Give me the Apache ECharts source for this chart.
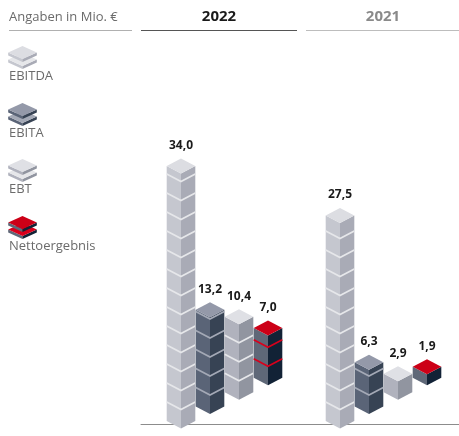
<!DOCTYPE html>
<html><head><meta charset="utf-8">
<style>html,body{margin:0;padding:0;background:#fff}#c{width:459px;height:436px}</style>
<script src="https://cdn.jsdelivr.net/npm/echarts@6/dist/echarts.min.js"></script>
</head><body><div id="c"></div>
<script>
const years = ['2022', '2021'];
const unitLabel = 'Angaben in Mio. €';
const names = ['EBITDA', 'EBITA', 'EBT', 'Nettoergebnis'];
const ebitda = [34.0, 27.5];
const ebita = [13.2, 6.3];
const ebt = [10.4, 2.9];
const netto = [7.0, 1.9];
const valuePerCube = 2.5;

const palette = [
  {top:'#dcdde2', left:'#c5c7cf', right:'#a9abb6', sep:'#e6e7ea'},
  {top:'#9499a9', left:'#5a6477', right:'#374354', sep:'#a4a9b6'},
  {top:'#dfe0e5', left:'#b0b2bd', right:'#9195a0', sep:'#e6e7ea'},
  {top:'#cc0017', left:'#5f6878', right:'#122236', sep:'#d8001c'}
];
const FONT = '"Open Sans", "Noto Sans", sans-serif';
const HW = 14.3, HD = 7.5, STEP = 29, DROP = 14.4, SHIFT = 4;
const fmt = v => v.toFixed(1).replace('.', ',');
const poly = (points, fill) => ({type:'polygon', shape:{points}, style:{fill}, silent:true});

function renderCube(seriesIdx) {
  return function (params, api) {
    const pal = palette[seriesIdx];
    const v = api.value(1);
    const base = api.coord([api.value(0), 0]);
    const top = api.coord([api.value(0), v]);
    const pxPerValue = base[1] - top[1];
    const cx = base[0] + SHIFT + (seriesIdx - 1.5) * STEP;
    const yb = base[1] + 4.5 - seriesIdx * DROP;
    const yt = top[1] + 8 - seriesIdx * DROP;
    const kids = [
      poly([[cx - HW, yt - HD], [cx, yt], [cx, yb], [cx - HW, yb - HD]], pal.left),
      poly([[cx + HW, yt - HD], [cx, yt], [cx, yb], [cx + HW, yb - HD]], pal.right),
      poly([[cx - HW, yt - HD], [cx, yt - 2 * HD], [cx + HW, yt - HD], [cx, yt]], pal.top)
    ];
    const pitch = valuePerCube * (pxPerValue / v);
    for (let k = 1; yb - k * pitch > yt + 1; k++) {
      const y = yb - k * pitch;
      kids.push({type:'polyline', shape:{points:[[cx - HW, y - HD], [cx, y], [cx + HW, y - HD]]},
        style:{stroke:pal.sep, lineWidth:1.7, fill:null}, silent:true});
    }
    kids.push({type:'text', style:{text:fmt(v), x:cx, y:yt - 2 * HD - 13, align:'center', verticalAlign:'middle',
      font:'bold 12px ' + FONT, fill:'#1a1a1a'}, silent:true});
    return {type:'group', children:kids};
  };
}

const seriesValues = [ebitda, ebita, ebt, netto];
const series = seriesValues.map((vals, i) => ({
  name: names[i], type:'custom', coordinateSystem:'cartesian2d', clip:false, silent:true,
  renderItem: renderCube(i), encode:{x:0, y:1},
  data: vals.map((v, c) => [c, v])
}));

const legendY = [76, 133, 189, 246];
const graphic = [
  {type:'text', style:{text:unitLabel, x:9, y:17.5, align:'left', verticalAlign:'middle', font:'13px ' + FONT, fill:'#6b6b6b'}},
  {type:'text', style:{text:years[0], x:219, y:17, align:'center', verticalAlign:'middle', font:'bold 15px ' + FONT, fill:'#1a1a1a'}},
  {type:'text', style:{text:years[1], x:383, y:17, align:'center', verticalAlign:'middle', font:'bold 15px ' + FONT, fill:'#8a8a8a'}},
  {type:'line', shape:{x1:9, y1:30.5, x2:132, y2:30.5}, style:{stroke:'#b0b0b0', lineWidth:1}},
  {type:'line', shape:{x1:141, y1:30.5, x2:297, y2:30.5}, style:{stroke:'#555', lineWidth:1}},
  {type:'line', shape:{x1:306, y1:30.5, x2:459, y2:30.5}, style:{stroke:'#bdbdbd', lineWidth:1}}
];
names.forEach((n, i) => {
  const pal = palette[i], ly = legendY[i], cx = 22.5, hw = 14.3, hd = 6.5, th = 3;
  const t = ly - 30;
  const prism = (y, topFill) => [
    {type:'polygon', shape:{points:[[cx - hw, y + hd], [cx, y + 2 * hd], [cx, y + 2 * hd + th], [cx - hw, y + hd + th]]}, style:{fill:pal.left}},
    {type:'polygon', shape:{points:[[cx + hw, y + hd], [cx, y + 2 * hd], [cx, y + 2 * hd + th], [cx + hw, y + hd + th]]}, style:{fill:pal.right}},
    {type:'polygon', shape:{points:[[cx - hw, y + hd], [cx, y], [cx + hw, y + hd], [cx, y + 2 * hd]]}, style:{fill:topFill}}
  ];
  graphic.push(...prism(t + 7, pal.sep));
  graphic.push(...prism(t, pal.top));
  graphic.push({type:'text', style:{text:n, x:9, y:ly, align:'left', verticalAlign:'middle', font:'13px ' + FONT, fill:'#6b6b6b'}});
});

const chart = echarts.init(document.getElementById('c'), null, {renderer:'canvas'});
chart.setOption({
  animation:false,
  grid:{left:141, right:0, top:44, bottom:12},
  xAxis:{type:'category', data:years, axisTick:{show:false}, axisLabel:{show:false},
    axisLine:{show:true, lineStyle:{color:'#8c8c8c', width:1}}},
  yAxis:{type:'value', min:0, max:50, show:false},
  series, graphic
});
</script></body></html>
